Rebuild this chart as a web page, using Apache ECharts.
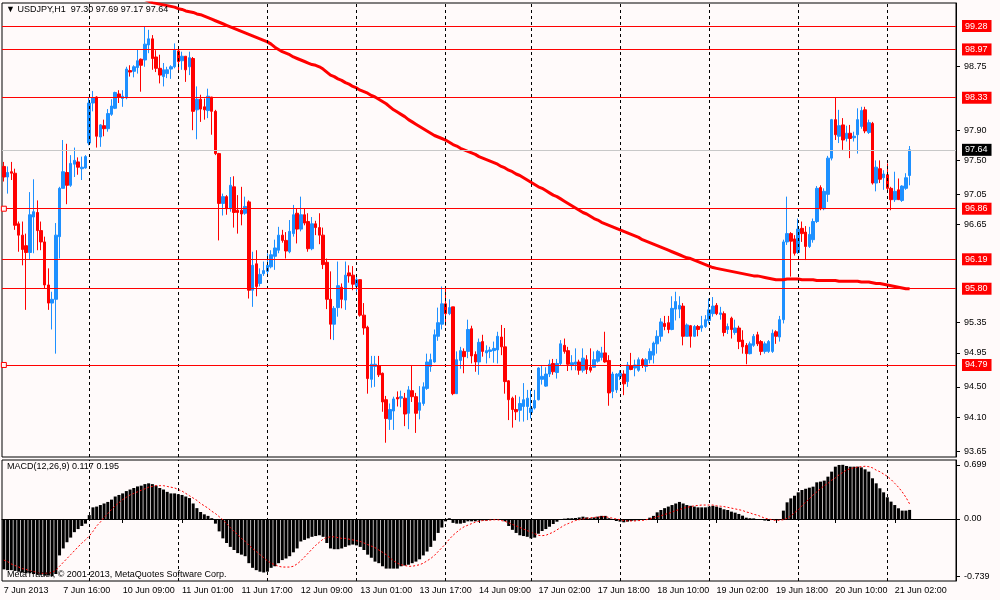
<!DOCTYPE html>
<html>
<head>
<meta charset="utf-8">
<title>USDJPY,H1</title>
<script src="https://cdn.jsdelivr.net/npm/echarts@6/dist/echarts.min.js"></script>
<style>
html, body { margin: 0; padding: 0; background: #fffafa; }
#chart { width: 1000px; height: 600px; }
</style>
</head>
<body>
<div id="chart"></div>
<script>
// USDJPY H1 bars, 7 Jun 2013 00:00 .. 21 Jun 2013 06:00
var opens = [
  97.42, 97.28, 97.35, 97.33, 96.66, 96.51, 96.37, 96.28, 96.75, 96.81,
  96.57, 96.42, 95.85, 95.61, 95.66, 96.49, 97.13, 97.34, 97.17, 97.45,
  97.48, 97.39, 97.40, 97.73, 98.26, 98.34, 97.81, 97.96, 97.92, 98.11,
  98.19, 98.38, 98.32, 98.33, 98.69, 98.68, 98.73, 98.84, 98.83, 99.03,
  99.11, 98.87, 98.72, 98.61, 98.65, 98.71, 98.74, 98.95, 98.82, 98.88,
  98.74, 98.85, 98.17, 98.31, 98.21, 98.16, 98.34, 98.15, 97.59, 96.93,
  97.02, 96.86, 97.15, 96.84, 96.84, 96.80, 96.95, 95.78, 96.13, 95.87,
  96.00, 96.03, 96.09, 96.23, 96.31, 96.51, 96.44, 96.29, 96.53, 96.80,
  96.59, 96.78, 96.69, 96.33, 96.66, 96.61, 96.51, 96.15, 95.66, 95.33,
  95.55, 95.82, 95.65, 96.01, 95.98, 95.83, 95.92, 95.45, 95.29, 94.60,
  94.77, 94.78, 94.68, 94.33, 94.07, 94.18, 94.36, 94.35, 94.35, 94.15,
  94.45, 94.37, 94.19, 94.28, 94.48, 94.77, 94.83, 95.17, 95.33, 95.60,
  95.47, 95.56, 94.41, 94.85, 94.97, 94.97, 95.27, 94.93, 94.83, 95.10,
  94.95, 94.97, 94.98, 94.99, 95.16, 95.03, 94.58, 94.35, 94.20, 94.19,
  94.24, 94.24, 94.16, 94.22, 94.33, 94.60, 94.51, 94.67, 94.81, 94.69,
  94.81, 95.05, 94.98, 94.79, 94.80, 94.83, 94.72, 94.86, 94.76, 94.76,
  94.84, 94.89, 94.95, 94.85, 94.44, 94.46, 94.64, 94.67, 94.57, 94.78,
  94.75, 94.72, 94.86, 94.77, 94.86, 94.92, 95.07, 95.17, 95.34, 95.35,
  95.26, 95.53, 95.53, 95.57, 95.17, 95.31, 95.17, 95.30, 95.28, 95.30,
  95.38, 95.47, 95.58, 95.46, 95.47, 95.26, 95.41, 95.22, 95.28, 95.12,
  95.05, 94.94, 95.05, 95.19, 95.10, 94.97, 94.97, 94.97, 95.23, 95.16,
  95.39, 96.42, 96.53, 96.46, 96.28, 96.60, 96.55, 96.36, 96.45, 96.69,
  97.14, 96.86, 97.05, 97.53, 98.04, 97.82, 97.97, 97.79, 97.86, 97.80,
  97.84, 97.95, 98.17, 97.87, 97.99, 97.20, 97.39, 97.27, 97.31, 97.13,
  96.98, 97.11, 96.97, 97.13, 97.30
];
var highs = [
  97.48, 97.42, 97.48, 97.39, 96.69, 96.69, 96.53, 97.08, 97.25, 96.97,
  96.69, 96.49, 96.07, 95.76, 96.67, 97.15, 97.77, 97.72, 97.57, 97.67,
  97.54, 97.55, 97.57, 98.34, 98.42, 98.35, 97.98, 98.04, 98.18, 98.31,
  98.41, 98.43, 98.43, 98.74, 98.76, 98.76, 98.97, 98.85, 99.27, 99.23,
  99.16, 98.96, 98.90, 98.79, 98.74, 98.76, 99.05, 99.01, 98.94, 98.88,
  98.94, 98.87, 98.48, 98.37, 98.32, 98.45, 98.34, 98.17, 97.60, 97.06,
  97.04, 97.28, 97.29, 97.04, 97.15, 97.02, 96.97, 96.29, 96.31, 96.07,
  96.16, 96.27, 96.31, 96.45, 96.62, 96.58, 96.55, 96.71, 96.91, 96.86,
  97.02, 96.86, 96.80, 96.75, 96.70, 96.80, 96.61, 96.20, 96.03, 95.57,
  96.16, 95.87, 96.16, 96.11, 96.10, 95.97, 95.92, 95.61, 95.31, 94.91,
  94.91, 94.91, 94.69, 94.38, 94.28, 94.37, 94.44, 94.45, 94.42, 94.51,
  94.79, 94.42, 94.51, 94.56, 94.94, 94.94, 95.26, 95.55, 95.83, 95.83,
  95.66, 95.56, 94.97, 95.03, 95.01, 95.39, 95.31, 94.97, 95.14, 95.19,
  95.05, 95.03, 95.10, 95.23, 95.32, 95.28, 94.59, 94.37, 94.39, 94.37,
  94.55, 94.46, 94.46, 94.46, 94.76, 94.79, 94.76, 94.86, 94.87, 94.87,
  95.12, 95.14, 95.03, 94.92, 95.01, 94.86, 95.01, 94.92, 95.01, 94.97,
  94.99, 95.03, 95.23, 94.92, 94.70, 94.68, 94.72, 94.72, 94.83, 94.95,
  94.86, 94.89, 94.88, 94.88, 95.01, 95.10, 95.25, 95.41, 95.44, 95.44,
  95.70, 95.76, 95.70, 95.61, 95.34, 95.32, 95.32, 95.32, 95.44, 95.45,
  95.67, 95.69, 95.61, 95.56, 95.50, 95.34, 95.43, 95.39, 95.31, 95.25,
  95.08, 95.10, 95.20, 95.23, 95.12, 95.10, 95.12, 95.26, 95.25, 95.44,
  96.45, 97.02, 96.55, 96.51, 96.73, 96.69, 96.63, 96.62, 96.73, 97.16,
  97.17, 97.13, 97.56, 98.05, 98.33, 98.17, 98.06, 97.96, 97.97, 97.88,
  98.19, 98.21, 98.21, 98.04, 98.01, 97.50, 97.50, 97.37, 97.46, 97.15,
  97.35, 97.26, 97.17, 97.33, 97.69
];
var lows = [
  97.22, 97.06, 97.24, 96.58, 96.29, 96.11, 95.52, 96.18, 96.27, 96.31,
  96.31, 95.80, 95.52, 95.26, 94.94, 96.20, 97.13, 96.92, 97.15, 97.28,
  97.31, 97.24, 97.39, 97.70, 98.15, 97.67, 97.68, 97.82, 97.88, 98.09,
  98.18, 98.26, 98.21, 98.31, 98.61, 98.60, 98.65, 98.41, 98.74, 98.92,
  98.70, 98.67, 98.52, 98.48, 98.59, 98.58, 98.72, 98.67, 98.70, 98.54,
  98.63, 97.90, 97.78, 98.01, 98.04, 98.06, 97.84, 97.57, 96.44, 96.77,
  96.78, 96.82, 96.61, 96.53, 96.64, 96.78, 95.67, 95.56, 95.70, 95.83,
  95.97, 95.98, 96.07, 96.05, 96.27, 96.41, 96.20, 96.27, 96.49, 96.40,
  96.56, 96.64, 96.29, 96.31, 96.51, 96.39, 96.06, 95.53, 95.13, 95.12,
  95.43, 95.54, 95.52, 95.88, 95.78, 95.76, 95.43, 95.19, 94.41, 94.49,
  94.50, 94.63, 94.17, 93.76, 93.93, 93.93, 94.24, 94.23, 93.98, 93.94,
  94.30, 93.89, 94.07, 94.25, 94.46, 94.70, 94.82, 95.11, 95.26, 95.31,
  95.45, 94.39, 94.41, 94.74, 94.68, 94.88, 94.81, 94.70, 94.66, 94.90,
  94.81, 94.88, 94.82, 94.81, 94.92, 94.41, 94.06, 93.96, 94.06, 94.04,
  94.04, 94.06, 94.08, 94.20, 94.32, 94.53, 94.50, 94.63, 94.66, 94.61,
  94.78, 94.94, 94.71, 94.72, 94.72, 94.66, 94.69, 94.67, 94.69, 94.75,
  94.82, 94.85, 94.82, 94.25, 94.35, 94.42, 94.59, 94.39, 94.50, 94.72,
  94.64, 94.70, 94.75, 94.70, 94.81, 94.81, 94.94, 95.10, 95.25, 95.21,
  95.25, 95.38, 95.41, 95.05, 95.17, 95.02, 95.16, 95.17, 95.23, 95.28,
  95.34, 95.43, 95.45, 95.39, 95.17, 95.20, 95.14, 95.19, 95.00, 94.94,
  94.80, 94.93, 95.03, 95.04, 94.92, 94.94, 94.95, 94.95, 95.07, 95.10,
  95.34, 96.38, 95.96, 96.24, 96.26, 96.42, 96.18, 96.34, 96.41, 96.67,
  96.84, 96.84, 96.95, 97.50, 97.77, 97.73, 97.64, 97.75, 97.53, 97.75,
  97.59, 97.92, 97.86, 97.85, 97.18, 97.09, 97.20, 97.11, 97.09, 96.84,
  96.95, 96.98, 96.95, 97.11, 97.17
];
var closes = [
  97.28, 97.34, 97.33, 96.64, 96.51, 96.32, 96.28, 96.78, 96.82, 96.57,
  96.42, 95.85, 95.61, 95.66, 96.51, 97.13, 97.35, 97.17, 97.46, 97.50,
  97.41, 97.41, 97.55, 98.26, 98.33, 97.82, 97.97, 97.92, 98.12, 98.22,
  98.40, 98.34, 98.35, 98.71, 98.67, 98.74, 98.82, 98.76, 99.04, 99.11,
  98.85, 98.72, 98.63, 98.70, 98.70, 98.74, 98.96, 98.81, 98.88, 98.70,
  98.86, 98.15, 98.31, 98.18, 98.17, 98.35, 98.15, 97.59, 96.93, 97.02,
  96.86, 97.17, 96.81, 96.81, 96.79, 96.89, 95.78, 96.11, 95.83, 95.99,
  96.04, 96.11, 96.25, 96.34, 96.51, 96.44, 96.30, 96.56, 96.78, 96.59,
  96.78, 96.67, 96.33, 96.66, 96.61, 96.51, 96.12, 95.66, 95.33, 95.54,
  95.84, 95.66, 95.98, 95.97, 95.86, 95.92, 95.45, 95.28, 94.61, 94.80,
  94.80, 94.66, 94.30, 94.08, 94.20, 94.34, 94.34, 94.37, 94.14, 94.46,
  94.37, 94.15, 94.29, 94.50, 94.83, 94.86, 95.19, 95.35, 95.60, 95.47,
  95.55, 94.41, 94.86, 94.98, 94.90, 95.26, 94.91, 94.83, 95.09, 94.97,
  94.98, 94.99, 95.01, 95.17, 95.03, 94.57, 94.33, 94.20, 94.17, 94.28,
  94.33, 94.35, 94.22, 94.32, 94.75, 94.64, 94.67, 94.80, 94.70, 94.81,
  95.07, 94.97, 94.80, 94.82, 94.83, 94.72, 94.88, 94.73, 94.72, 94.86,
  94.97, 94.95, 94.83, 94.42, 94.67, 94.67, 94.68, 94.54, 94.79, 94.73,
  94.79, 94.86, 94.79, 94.86, 94.97, 95.08, 95.17, 95.36, 95.30, 95.26,
  95.54, 95.63, 95.58, 95.17, 95.32, 95.17, 95.30, 95.26, 95.31, 95.39,
  95.52, 95.57, 95.47, 95.48, 95.22, 95.30, 95.26, 95.28, 95.10, 95.03,
  94.94, 95.07, 95.17, 95.07, 94.97, 95.07, 95.10, 95.21, 95.17, 95.39,
  96.42, 96.53, 96.43, 96.27, 96.59, 96.53, 96.36, 96.52, 96.69, 97.13,
  96.86, 97.09, 97.53, 98.04, 97.84, 97.96, 97.77, 97.86, 97.79, 97.82,
  98.04, 98.16, 97.89, 98.00, 97.20, 97.41, 97.25, 97.32, 97.13, 96.98,
  97.09, 96.98, 97.16, 97.27, 97.64
];

// red moving average, first bar it is given for
var maFrom = 36;
var maValues = [
  99.66, 99.64, 99.63, 99.61,
  99.59, 99.58, 99.57, 99.56, 99.55, 99.54, 99.53, 99.51, 99.50, 99.48,
  99.47, 99.46, 99.44, 99.43, 99.41, 99.39, 99.37, 99.35, 99.33, 99.31,
  99.29, 99.27, 99.25, 99.23, 99.21, 99.19, 99.17, 99.15, 99.13, 99.11,
  99.09, 99.07, 99.04, 99.00, 98.97, 98.94, 98.92, 98.90, 98.87, 98.85,
  98.83, 98.81, 98.79, 98.77, 98.76, 98.74, 98.71, 98.67, 98.63, 98.61,
  98.58, 98.56, 98.53, 98.51, 98.48, 98.46, 98.43, 98.41, 98.39, 98.36,
  98.34, 98.31, 98.28, 98.25, 98.21, 98.17, 98.14, 98.11, 98.08, 98.04,
  98.01, 97.98, 97.95, 97.92, 97.89, 97.86, 97.83, 97.81, 97.79, 97.77,
  97.74, 97.71, 97.69, 97.66, 97.64, 97.62, 97.60, 97.58, 97.55, 97.53,
  97.51, 97.49, 97.47, 97.45, 97.42, 97.40, 97.37, 97.35, 97.32, 97.30,
  97.27, 97.24, 97.21, 97.18, 97.15, 97.13, 97.10, 97.07, 97.04, 97.02,
  96.99, 96.96, 96.93, 96.90, 96.87, 96.84, 96.81, 96.79, 96.76, 96.73,
  96.71, 96.68, 96.66, 96.64, 96.62, 96.60, 96.58, 96.56, 96.54, 96.52,
  96.50, 96.48, 96.45, 96.43, 96.41, 96.39, 96.37, 96.35, 96.33, 96.31,
  96.29, 96.27, 96.25, 96.23, 96.21, 96.20, 96.18, 96.16, 96.14, 96.12,
  96.10, 96.08, 96.07, 96.06, 96.05, 96.04, 96.03, 96.02, 96.01, 96.00,
  95.99, 95.98, 95.97, 95.97, 95.96, 95.95, 95.94, 95.93, 95.92, 95.92,
  95.92, 95.93, 95.93, 95.93, 95.93, 95.92, 95.92, 95.92, 95.92, 95.91,
  95.91, 95.91, 95.91, 95.91, 95.91, 95.90, 95.90, 95.90, 95.90, 95.90,
  95.90, 95.89, 95.89, 95.89, 95.88, 95.87, 95.87, 95.86, 95.85, 95.84,
  95.83, 95.82, 95.81, 95.80, 95.80
];

// MACD(12,26,9) main values (histogram) and signal
var macdHist = [
  -0.65, -0.66, -0.66, -0.67, -0.68, -0.69, -0.70, -0.70, -0.71, -0.72,
  -0.72, -0.73, -0.73, -0.739, -0.71, -0.47, -0.38, -0.30, -0.24, -0.17,
  -0.13, -0.09, -0.06, 0.05, 0.15, 0.16, 0.18, 0.20, 0.22, 0.25,
  0.29, 0.31, 0.33, 0.36, 0.38, 0.40, 0.42, 0.43, 0.45, 0.46,
  0.45, 0.43, 0.40, 0.38, 0.35, 0.33, 0.33, 0.32, 0.31, 0.29,
  0.27, 0.20, 0.14, 0.09, 0.06, 0.04, 0.01, -0.06, -0.16, -0.25,
  -0.31, -0.36, -0.40, -0.44, -0.46, -0.48, -0.57, -0.63, -0.66, -0.68,
  -0.69, -0.68, -0.63, -0.61, -0.57, -0.53, -0.51, -0.48, -0.43, -0.38,
  -0.29, -0.27, -0.25, -0.23, -0.22, -0.21, -0.23, -0.31, -0.38, -0.39,
  -0.39, -0.38, -0.36, -0.34, -0.33, -0.34, -0.36, -0.40, -0.46, -0.50,
  -0.55, -0.57, -0.61, -0.64, -0.64, -0.64, -0.64, -0.61, -0.60, -0.59,
  -0.57, -0.55, -0.52, -0.47, -0.42, -0.36, -0.28, -0.18, -0.11, -0.03,
  0.01, -0.05, -0.06, -0.06, -0.05, -0.03, -0.03, -0.03, -0.02, -0.02,
  -0.02, -0.01, -0.01, -0.01, -0.013, -0.03, -0.09, -0.14, -0.18, -0.21,
  -0.22, -0.23, -0.25, -0.24, -0.19, -0.155, -0.13, -0.10, -0.065, -0.035,
  -0.005, 0.004, 0.01, 0.01, 0.013, 0.02, 0.03, 0.02, 0.01, 0.02,
  0.03, 0.04, 0.04, 0.01, -0.013, -0.026, -0.034, -0.043, -0.034, -0.026,
  -0.02, -0.017, -0.013, -0.004, 0.017, 0.04, 0.086, 0.116, 0.14, 0.16,
  0.18, 0.20, 0.22, 0.20, 0.18, 0.17, 0.16, 0.15, 0.15, 0.15,
  0.16, 0.17, 0.16, 0.146, 0.125, 0.116, 0.095, 0.082, 0.065, 0.043,
  0.017, 0.01, 0.008, 0.0, -0.013, -0.02, -0.026, -0.013, -0.004, 0.0,
  0.108, 0.215, 0.266, 0.30, 0.344, 0.374, 0.39, 0.404, 0.417, 0.473,
  0.482, 0.495, 0.546, 0.611, 0.675, 0.697, 0.699, 0.684, 0.675, 0.675,
  0.675, 0.666, 0.641, 0.611, 0.525, 0.46, 0.396, 0.344, 0.28, 0.224,
  0.18, 0.138, 0.108, 0.108, 0.117
];
var macdSignal = [
  -0.53, -0.55, -0.58, -0.60, -0.62, -0.64, -0.65, -0.67, -0.68, -0.69,
  -0.70, -0.70, -0.70, -0.69, -0.66, -0.61, -0.56, -0.51, -0.46, -0.41,
  -0.36, -0.31, -0.27, -0.22, -0.16, -0.09, -0.04, 0.02, 0.07, 0.12,
  0.17, 0.21, 0.25, 0.28, 0.31, 0.33, 0.35, 0.37, 0.39, 0.41,
  0.42, 0.43, 0.43, 0.43, 0.42, 0.41, 0.40, 0.38, 0.36, 0.33,
  0.30, 0.27, 0.24, 0.20, 0.17, 0.14, 0.10, 0.07, 0.03, -0.01,
  -0.06, -0.11, -0.16, -0.20, -0.25, -0.29, -0.34, -0.38, -0.42, -0.46,
  -0.50, -0.54, -0.57, -0.59, -0.61, -0.62, -0.62, -0.62, -0.61, -0.58,
  -0.54, -0.49, -0.44, -0.39, -0.34, -0.30, -0.26, -0.24, -0.23, -0.23,
  -0.24, -0.25, -0.25, -0.26, -0.27, -0.28, -0.29, -0.31, -0.33, -0.35,
  -0.37, -0.40, -0.43, -0.46, -0.50, -0.54, -0.57, -0.59, -0.60, -0.61,
  -0.61, -0.60, -0.59, -0.57, -0.54, -0.51, -0.47, -0.42, -0.37, -0.32,
  -0.26, -0.21, -0.17, -0.13, -0.10, -0.08, -0.06, -0.04, -0.03, -0.02,
  -0.02, -0.015, -0.01, -0.01, -0.02, -0.03, -0.05, -0.07, -0.09, -0.11,
  -0.13, -0.15, -0.17, -0.19, -0.21, -0.215, -0.21, -0.19, -0.17, -0.14,
  -0.11, -0.08, -0.06, -0.04, -0.02, -0.01, 0.00, 0.01, 0.015, 0.02,
  0.025, 0.03, 0.03, 0.02, 0.01, 0.00, -0.01, -0.02, -0.025, -0.025,
  -0.025, -0.02, -0.02, -0.01, 0.00, 0.01, 0.03, 0.04, 0.06, 0.07,
  0.09, 0.11, 0.12, 0.14, 0.15, 0.16, 0.17, 0.175, 0.18, 0.18,
  0.18, 0.18, 0.17, 0.165, 0.16, 0.15, 0.14, 0.13, 0.12, 0.11,
  0.09, 0.08, 0.06, 0.05, 0.03, 0.01, 0.00, -0.01, -0.02, -0.015,
  -0.01, 0.01, 0.04, 0.08, 0.12, 0.17, 0.22, 0.26, 0.31, 0.35,
  0.39, 0.43, 0.46, 0.50, 0.53, 0.57, 0.60, 0.63, 0.65, 0.66,
  0.67, 0.675, 0.68, 0.675, 0.66, 0.63, 0.61, 0.58, 0.55, 0.51,
  0.46, 0.41, 0.35, 0.28, 0.195
];

// horizontal levels drawn on the chart
var levels = [99.28, 98.97, 98.33, 96.86, 96.19, 95.80, 94.79];
var anchoredLevels = [96.86, 94.79];
var priceTicks = [98.75, 97.90, 97.50, 97.05, 96.65, 95.35, 94.95, 94.50, 94.10, 93.65];
var macdTicks = [0.699, 0, -0.739];

var MONTHS = ['Jan', 'Feb', 'Mar', 'Apr', 'May', 'Jun', 'Jul', 'Aug', 'Sep', 'Oct', 'Nov', 'Dec'];
var FONT = 'Liberation Sans, Arial, sans-serif';
var SLOTS = 257;           // bar slots across the chart width (incl. empty shift on the right)
var PRICE_MAX = 99.585;
var PRICE_MIN = 93.571;

function pad(n) {
    return n < 10 ? '0' + n : '' + n;
}

// broker hours: Mon 00:00 .. Fri 22:00
function buildTimes(count) {
    var t = Date.UTC(2013, 5, 7, 0);
    var out = [];
    while (out.length < count) {
        var d = new Date(t), wd = d.getUTCDay(), h = d.getUTCHours();
        if (wd >= 1 && wd <= 5 && !(wd === 5 && h > 22))
            out.push(d.getUTCDate() + ' ' + MONTHS[d.getUTCMonth()] + ' ' + pad(h) + ':00');
        t += 3600000;
    }
    return out;
}

var times = buildTimes(SLOTS);
var last = closes.length - 1;

var candles = opens.map(function (o, i) {
    return [o, closes[i], lows[i], highs[i]];
});
var maData = closes.map(function (c, i) {
    return i < maFrom ? '-' : maValues[i - maFrom];
});
var daySeparators = [];
times.forEach(function (t, i) {
    if (i > 0 && / 00:00$/.test(t)) daySeparators.push({xAxis: t});
});

function showTimeLabel(i) {
    return i % 16 === 0 && i <= last;
}

var sepLine = {
    symbol: ['none', 'none'],
    silent: true,
    animation: false,
    label: {show: false},
    lineStyle: {color: '#000', width: 1, type: [3, 3]},
    data: daySeparators
};

function levelLabel(bg) {
    return {
        show: true,
        position: 'end',
        distance: 6,
        formatter: function (p) { return p.value.toFixed(2); },
        backgroundColor: bg,
        color: '#fff',
        fontFamily: FONT,
        fontSize: 9,
        padding: [2, 4, 1, 3]
    };
}

var levelLines = levels.map(function (v) {
    return {yAxis: v, lineStyle: {color: '#ff0000', width: 1, type: 'solid'}, label: levelLabel('#ff0000')};
});
levelLines.unshift({
    yAxis: closes[last],
    lineStyle: {color: '#c8c8c8', width: 1, type: 'solid'},
    label: levelLabel('#000')
});

var chart = echarts.init(document.getElementById('chart'));

chart.setOption({
    animation: false,
    backgroundColor: '#fffafa',
    textStyle: {fontFamily: FONT},
    grid: [
        {left: 2, right: 44, top: 3, height: 454, show: true, borderColor: '#000', borderWidth: 1, backgroundColor: '#fffafa'},
        {left: 2, right: 44, top: 460, height: 121, show: true, borderColor: '#000', borderWidth: 1, backgroundColor: '#fffafa'}
    ],
    xAxis: [
        {
            type: 'category', gridIndex: 0, data: times, boundaryGap: true,
            axisLine: {show: false}, axisTick: {show: false}, axisLabel: {show: false}, splitLine: {show: false}
        },
        {
            type: 'category', gridIndex: 1, data: times, boundaryGap: true,
            axisLine: {show: true, lineStyle: {color: '#000'}},
            axisTick: {show: true, interval: showTimeLabel, alignWithLabel: true, length: 4, lineStyle: {color: '#000'}},
            axisLabel: {
                interval: showTimeLabel,
                align: 'left',
                margin: 5,
                color: '#000',
                fontFamily: FONT,
                fontSize: 9,
                formatter: function (v, i) {
                    return i === 0 ? v.replace(/\d\d:\d\d$/, '2013') : v;
                }
            },
            splitLine: {show: false}
        }
    ],
    yAxis: [
        {
            type: 'value', gridIndex: 0, position: 'right', min: PRICE_MIN, max: PRICE_MAX,
            axisLine: {show: true, lineStyle: {color: '#000'}},
            axisTick: {show: true, customValues: priceTicks, length: 4, lineStyle: {color: '#000'}},
            axisLabel: {
                customValues: priceTicks, margin: 8, color: '#000', fontFamily: FONT, fontSize: 9,
                formatter: function (v) { return v.toFixed(2); }
            },
            splitLine: {show: false}
        },
        {
            type: 'value', gridIndex: 1, position: 'right', min: -0.80, max: 0.761,
            axisLine: {show: true, lineStyle: {color: '#000'}},
            axisTick: {show: true, customValues: macdTicks, length: 4, lineStyle: {color: '#000'}},
            axisLabel: {
                customValues: macdTicks, margin: 8, color: '#000', fontFamily: FONT, fontSize: 9,
                formatter: function (v) { return v === 0 ? '0.00' : String(v); }
            },
            splitLine: {show: false}
        }
    ],
    series: [
        {
            name: 'USDJPY',
            type: 'candlestick',
            xAxisIndex: 0,
            yAxisIndex: 0,
            data: candles,
            barWidth: 3,
            itemStyle: {
                color: '#1e90ff',
                color0: '#ff0000',
                borderColor: '#1e90ff',
                borderColor0: '#ff0000',
                borderWidth: 1
            },
            markLine: sepLine
        },
        {
            name: 'MA',
            type: 'line',
            xAxisIndex: 0,
            yAxisIndex: 0,
            data: maData,
            showSymbol: false,
            clip: true,
            lineStyle: {color: '#ff0000', width: 3},
            markLine: {
                symbol: ['none', 'none'],
                silent: true,
                animation: false,
                data: levelLines
            },
            markPoint: {
                symbol: 'rect',
                symbolSize: 5,
                silent: true,
                label: {show: false},
                itemStyle: {color: '#fffafa', borderColor: '#ff0000', borderWidth: 1},
                data: anchoredLevels.map(function (v) { return {coord: [times[0], v]}; })
            }
        },
        {
            name: 'MACD',
            type: 'bar',
            xAxisIndex: 1,
            yAxisIndex: 1,
            data: macdHist,
            barWidth: 3,
            itemStyle: {color: '#000'},
            markLine: sepLine
        },
        {
            name: 'Signal',
            type: 'line',
            xAxisIndex: 1,
            yAxisIndex: 1,
            data: macdSignal,
            showSymbol: false,
            lineStyle: {color: '#ff0000', width: 1, type: [2, 2]}
        }
    ],
    graphic: [
        {
            type: 'text', left: 6, top: 5, z: 100,
            style: {
                text: '\u25BC USDJPY,H1  ' + [opens[last], highs[last], lows[last], closes[last]].map(function (v) { return v.toFixed(2); }).join(' '),
                font: '9px ' + FONT, fill: '#000'
            }
        },
        {
            type: 'text', left: 7, top: 462, z: 100,
            style: {
                text: 'MACD(12,26,9) ' + macdHist[last].toFixed(3) + ' ' + macdSignal[last].toFixed(3),
                font: '9px ' + FONT, fill: '#000'
            }
        },
        {
            type: 'text', left: 7, top: 570, z: 100,
            style: {text: 'MetaTrader, \u00A9 2001-2013, MetaQuotes Software Corp.', font: '9px ' + FONT, fill: '#000'}
        }
    ]
});
</script>
</body>
</html>
